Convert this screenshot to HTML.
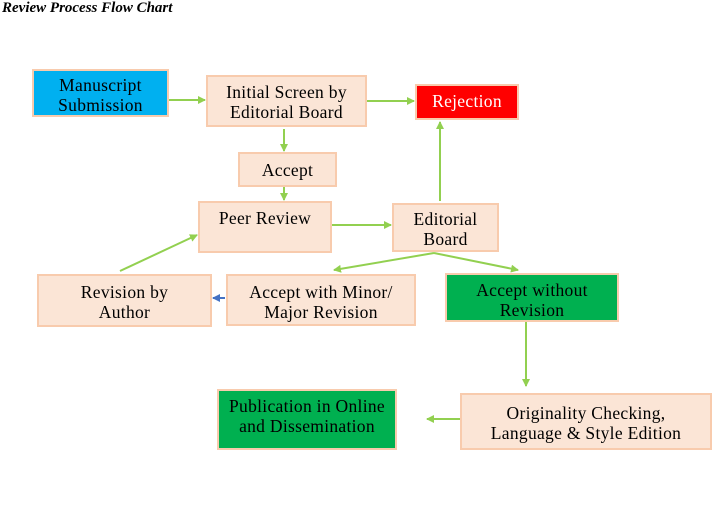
<!DOCTYPE html>
<html><head><style>
body{margin:0;width:713px;height:527px;background:#fff;position:relative;overflow:hidden;font-family:"Liberation Serif","Times New Roman","DejaVu Serif",serif;}
.b{position:absolute;box-sizing:border-box;border:2px solid #f8cbad;background:#fbe5d6;color:#000;font-size:17.5px;letter-spacing:0.3px;line-height:20px;text-align:center;padding-top:3px;white-space:nowrap;}
.t{position:absolute;left:2px;top:0;font-size:15px;font-weight:bold;font-style:italic;}
svg{position:absolute;left:0;top:0;}
</style></head><body>
<div class="t">Review Process Flow Chart</div>
<svg width="713" height="527">
<defs>
<marker id="g" markerWidth="8" markerHeight="8" refX="7" refY="4" orient="auto" markerUnits="userSpaceOnUse"><path d="M0,0 L8,4 L0,8z" fill="#92d050"/></marker>
<marker id="bl" markerWidth="8" markerHeight="8" refX="7" refY="4" orient="auto" markerUnits="userSpaceOnUse"><path d="M0,0 L8,4 L0,8z" fill="#4472c4"/></marker>
</defs>
<g stroke="#92d050" stroke-width="2" fill="none" marker-end="url(#g)">
<line x1="169" y1="100" x2="205" y2="100"/>
<line x1="367" y1="101" x2="414" y2="101"/>
<line x1="284" y1="129" x2="284" y2="151"/>
<line x1="284" y1="187" x2="284" y2="200"/>
<line x1="332" y1="225" x2="391" y2="225"/>
<line x1="440" y1="201" x2="440" y2="122"/>
<line x1="120" y1="271" x2="197" y2="235"/>
<line x1="434" y1="253" x2="334" y2="270"/>
<line x1="434" y1="253" x2="518" y2="270"/>
<line x1="526" y1="322" x2="526" y2="386"/>
<line x1="460" y1="419" x2="427" y2="419"/>
</g>
<line x1="225" y1="298" x2="213" y2="298" stroke="#4472c4" stroke-width="2" marker-end="url(#bl)"/>
</svg>
<div class="b" style="left:32px;top:69px;width:137px;height:48px;background:#00b0f0;padding-top:4px">Manuscript<br>Submission</div>
<div class="b" style="left:206px;top:75px;width:161px;height:52px;padding-top:5px">Initial Screen by<br>Editorial Board</div>
<div class="b" style="left:415px;top:84px;width:104px;height:36px;background:#ff0000;color:#fff;padding-top:5px">Rejection</div>
<div class="b" style="left:238px;top:152px;width:99px;height:35px;padding-top:6px">Accept</div>
<div class="b" style="left:198px;top:201px;width:134px;height:52px;padding-top:5px">Peer Review</div>
<div class="b" style="left:392px;top:203px;width:107px;height:49px;padding-top:4px">Editorial<br>Board</div>
<div class="b" style="left:37px;top:274px;width:175px;height:53px;padding-top:6px">Revision by<br>Author</div>
<div class="b" style="left:226px;top:274px;width:190px;height:52px;padding-top:6px">Accept with Minor/<br>Major Revision</div>
<div class="b" style="left:445px;top:273px;width:174px;height:49px;background:#00b050;border-color:#f8cbad;padding-top:5px">Accept without<br>Revision</div>
<div class="b" style="left:217px;top:389px;width:180px;height:61px;background:#00b050;padding-top:5px">Publication in Online<br>and Dissemination</div>
<div class="b" style="left:460px;top:393px;width:252px;height:57px;padding-top:8px">Originality Checking,<br>Language &amp; Style Edition</div>
</body></html>
